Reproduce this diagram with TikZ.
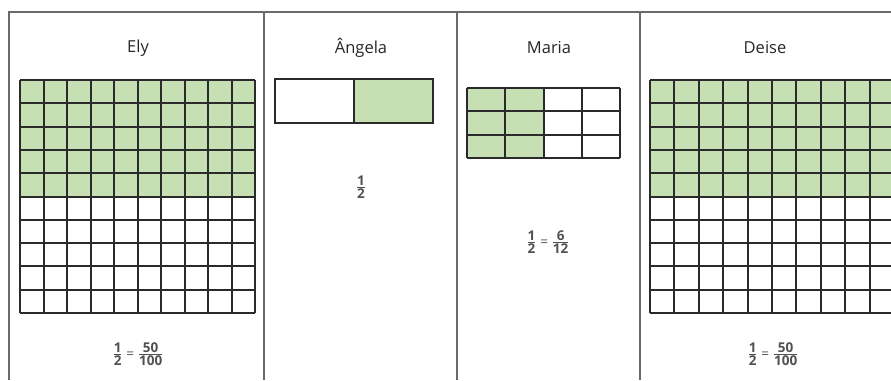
\documentclass[tikz,border=0pt]{standalone}
\usepackage{fontspec}
\setmainfont{Open Sans}
\usepackage{amsmath}
\definecolor{cellgreen}{HTML}{C6E0B4}
\definecolor{tline}{HTML}{6A6A6A}
\definecolor{gline}{HTML}{2A2A2A}
\definecolor{txt}{HTML}{262626}
\newcommand{\myfr}[2]{\ensuremath{\genfrac{}{}{0.7pt}{}{\mbox{\bfseries #1}}{\mbox{\bfseries #2}}}}
\tikzset{
  tableline/.style={draw=tline, line width=1.4pt},
  gridline/.style={draw=gline, line width=1.4pt},
  title/.style={font=\fontsize{16.5}{18}\selectfont, text=txt},
  fraclabel/.style={font=\fontsize{13.5}{15}\selectfont, text=txt!80, inner sep=0pt},
}
\begin{document}
\begin{tikzpicture}[x=1pt,y=-1pt]
\useasboundingbox (0,0) rectangle (891,380);
% table lines
\draw[tableline] (8,12) -- (891,12);
\foreach \xx in {9,264,457,640} \draw[tableline] (\xx,12) -- (\xx,380);
% titles
\node[title] (t1) at (138,48) {Ely};
\node[title] (t2) at (361,48) {Ângela};
\node[title] (t3) at (549,48) {Maria};
\node[title] (t4) at (765,48) {Deise};
% Ely grid
\fill[cellgreen] (20,80) rectangle (255,196.5);
\foreach \i in {0,...,10} {\pgfmathsetmacro{\xp}{round(20+23.5*\i)}\draw[gridline] (\xp,80) -- (\xp,313);}
\foreach \j in {0,...,10} {\pgfmathsetmacro{\yp}{round(80+23.3*\j)}\draw[gridline] (20,\yp) -- (255,\yp);}
% Angela
\fill[cellgreen] (354,79) rectangle (433,123);
\draw[gridline] (275,79) rectangle (433,123);
\draw[gridline] (354,79) -- (354,123);
% Maria
\fill[cellgreen] (467,88) rectangle (543,158);
\foreach \i in {0,...,4} {\pgfmathsetmacro{\xp}{round(467+38.25*\i)}\draw[gridline] (\xp,88) -- (\xp,158);}
\foreach \j in {0,...,3} {\pgfmathsetmacro{\yp}{round(88+23.33*\j)}\draw[gridline] (467,\yp) -- (620,\yp);}
% Deise grid
\fill[cellgreen] (650,80) rectangle (894,196.5);
\foreach \i in {0,...,10} {\pgfmathsetmacro{\xp}{round(650+24.4*\i)}\draw[gridline] (\xp,80) -- (\xp,313);}
\foreach \j in {0,...,10} {\pgfmathsetmacro{\yp}{round(80+23.3*\j)}\draw[gridline] (650,\yp) -- (894,\yp);}
% fractions
\node[fraclabel] (f1) at (138,354) {\myfr{1}{2}\;=\;\myfr{50}{100}};
\node[fraclabel] (f2) at (361,187) {\myfr{1}{2}};
\node[fraclabel] (f3) at (548,242) {\myfr{1}{2}\;=\;\myfr{6}{12}};
\node[fraclabel] (f4) at (773,354) {\myfr{1}{2}\;=\;\myfr{50}{100}};
\end{tikzpicture}
\end{document}
